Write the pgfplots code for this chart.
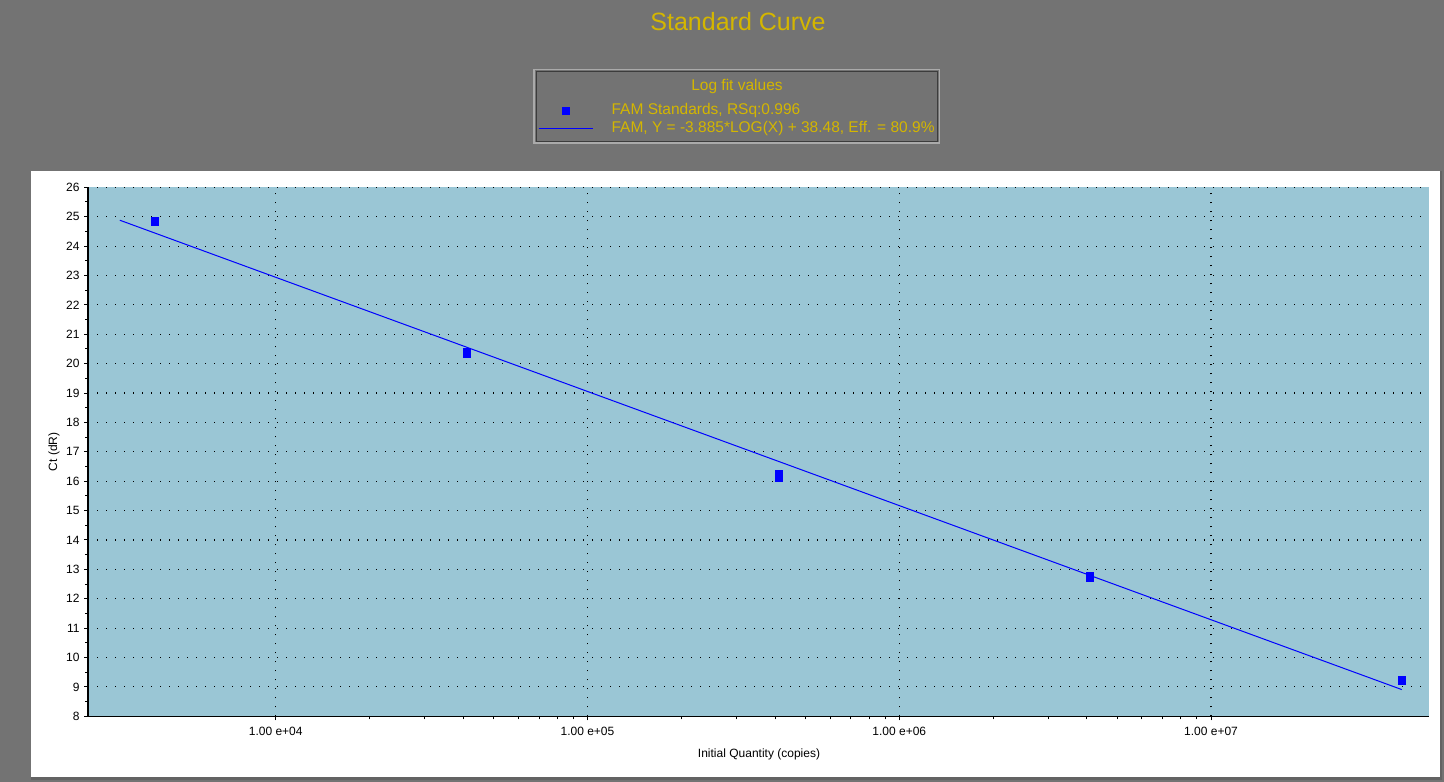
\documentclass[border=0pt]{standalone}
\usepackage{fontspec}
\setmainfont{Liberation Sans}
\usepackage{pgfplots}
\pgfplotsset{compat=1.18}
\definecolor{outergray}{RGB}{115,115,115}
\definecolor{titlecol}{RGB}{212,182,0}
\definecolor{plotbg}{RGB}{154,198,213}
\definecolor{markblue}{RGB}{0,0,255}
\definecolor{framelight}{RGB}{170,170,170}
\definecolor{framedark}{RGB}{60,60,60}
\begin{document}
\begin{tikzpicture}[x=1pt,y=1pt]
% background
\fill[outergray] (0pt,0pt) rectangle (1444pt,-782pt);
% white panel
\fill[white] (31pt,-170.7pt) rectangle (1440pt,-776.7pt);
\fill[framedark!80] (31pt,-776.7pt) rectangle (1442pt,-780pt);
\fill[framedark!80] (1440pt,-170.7pt) rectangle (1442pt,-780pt);
% title
\node[anchor=base, text=titlecol, font=\fontsize{25}{28}\selectfont, inner sep=0pt] at (738pt,-30pt) {Standard Curve};
% legend frame
\draw[framelight, line width=1.5pt] (534pt,-69.3pt) rectangle (939.5pt,-143pt);
\draw[framedark, line width=1pt] (536pt,-71.3pt) rectangle (937.5pt,-141pt);
\node[anchor=base, text=titlecol, font=\fontsize{15.5}{18}\selectfont, inner sep=0pt] at (737pt,-90.5pt) {Log fit values};
\begin{axis}[
  at={(88pt,-716.3pt)}, anchor=south west,
  scale only axis, width=1341pt, height=529pt,
  xmode=log, xmin=2500, xmax=5e7,
  ymin=8, ymax=26,
  ytick={8,...,26}, minor y tick num=1,
  xtick={1e4,1e5,1e6,1e7},
  xticklabels={1.00 e+04,1.00 e+05,1.00 e+06,1.00 e+07},
  /pgf/number format/assume math mode=true,
  yticklabel={\pgfmathprintnumber{\tick}},
  axis lines*=left,
  axis line style={black, line width=1.3pt},
  tick align=outside,
  major tick length=4pt, minor tick length=3pt,
  tick style={black, line width=1pt},
  grid=major,
  major grid style={black, line width=1.1pt, dash pattern=on 1.2pt off 7.8pt},
  axis background/.style={fill=plotbg},
  ticklabel style={font=\fontsize{12}{14}\selectfont},
  xticklabel style={yshift=-3.5pt},
  yticklabel style={xshift=-1pt},
  xlabel={Initial Quantity (copies)},
  ylabel={Ct (dR)},
  label style={font=\fontsize{12}{14}\selectfont},
  xlabel style={at={(axis description cs:0.5004,-0.0713)}, anchor=center},
  ylabel style={at={(axis description cs:-0.0254,0.5)}, anchor=center, rotate=0},
  clip=false,
  legend style={at={(rel axis cs:0.3355,1.1620)}, anchor=north west,
    draw=none, fill=none, inner sep=0pt, row sep=0pt, column sep=17.5pt,
    text=titlecol,
    nodes={inner sep=1pt, text height=12pt, text depth=4pt, font=\fontsize{15.5}{18}\selectfont}},
  legend cell align=left,
]
\addplot[color=markblue, only marks, mark=square*, mark size=3.5pt,
  mark options={fill=markblue, draw=markblue, line width=0pt, yscale=1.25},
  legend image code/.code={\draw[markblue, draw opacity=0] (0pt,0pt) -- (54pt,0pt); \fill[markblue] (23.5pt,-3.5pt) rectangle (30.5pt,3.5pt);}]
  coordinates {(4100,24.84) (41000,20.35) (410000,16.23) (410000,16.13) (4100000,12.75) (41000000,9.22)};
\addlegendentry{FAM Standards, RSq:0.996}
\addplot[color=markblue, draw=markblue, line width=1pt, no marks,
  legend image code/.code={\draw[markblue, line width=1pt] (0pt,0pt) -- (54pt,0pt);}]
  coordinates {(3162.3,24.88) (40900000,8.91)};
\addlegendentry{FAM, Y = -3.885*LOG(X) + 38.48, Eff. = 80.9\%}
\end{axis}
\pgfresetboundingbox
\useasboundingbox (0pt,0pt) rectangle (1444pt,-782pt);
\end{tikzpicture}
\end{document}
